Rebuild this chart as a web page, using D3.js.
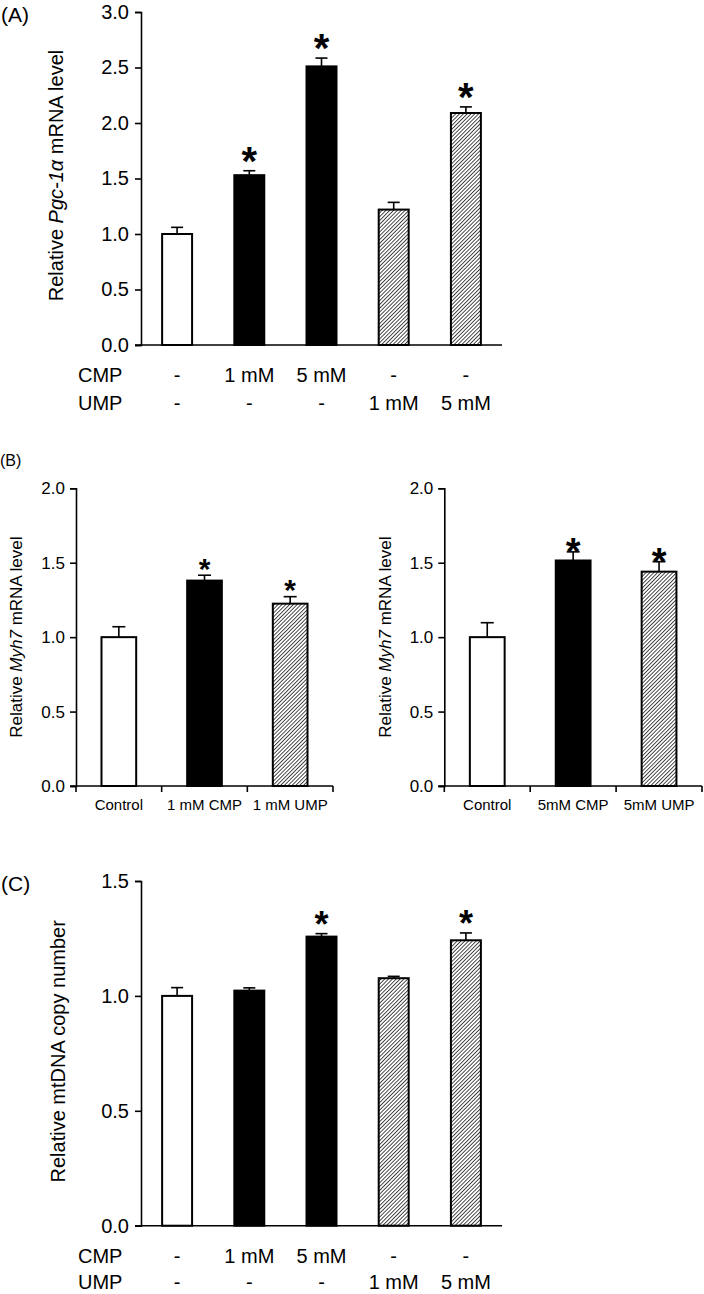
<!DOCTYPE html>
<html><head><meta charset="utf-8">
<script src="https://cdn.jsdelivr.net/npm/d3@7"></script>
<style>
html,body{margin:0;padding:0;background:#fff;}
text{font-family:"Liberation Sans",Arial,sans-serif;fill:#000;}
</style></head>
<body>
<svg id="fig" width="704" height="1294"></svg>
<script>
// ---------- data ----------
const groups5 = ["Control","1 mM CMP","5 mM CMP","1 mM UMP","5 mM UMP"];
const cmpRow = ["-","1 mM","5 mM","-","-"];
const umpRow = ["-","-","-","1 mM","5 mM"];
const fill5 = ["white","black","black","hatch","hatch"];

const pgcMean = [1.00, 1.53, 2.51, 1.22, 2.09];
const pgcErr  = [0.06, 0.04, 0.075, 0.065, 0.055];
const pgcSig  = [false, true, true, false, true];
const pgcTicks = [0,0.5,1.0,1.5,2.0,2.5,3.0];

const myhLabels1 = ["Control","1 mM CMP","1 mM UMP"];
const myhMean1 = [1.00, 1.38, 1.225];
const myhErr1  = [0.07, 0.036, 0.047];
const myhSig1  = [false, true, true];

const myhLabels5 = ["Control","5mM CMP","5mM UMP"];
const myhMean5 = [1.00, 1.515, 1.44];
const myhErr5  = [0.097, 0.058, 0.067];
const myhSig5  = [false, true, true];
const fill3 = ["white","black","hatch"];
const myhTicks = [0,0.5,1.0,1.5,2.0];

const mtMean = [1.00, 1.023, 1.258, 1.077, 1.242];
const mtErr  = [0.036, 0.012, 0.013, 0.008, 0.032];
const mtSig  = [false, false, true, false, true];
const mtTicks = [0,0.5,1.0,1.5];

// ---------- drawing ----------
const svg = d3.select("#fig");
const defs = svg.append("defs");
const pw = 2.7;
const pat = defs.append("pattern").attr("id","hatch")
  .attr("patternUnits","userSpaceOnUse").attr("width",pw).attr("height",pw)
  .attr("patternTransform","rotate(45)");
pat.append("rect").attr("width",pw).attr("height",pw).attr("fill","#fff");
pat.append("line").attr("x1",0).attr("y1",0).attr("x2",0).attr("y2",pw)
  .attr("stroke","#000").attr("stroke-width",1.4);

function fillOf(t){ return t==="hatch" ? "url(#hatch)" : t; }

function panel(o){
  const g = svg.append("g");
  const y = d3.scaleLinear().domain([0,o.yMax]).range([o.y0,o.y1]);
  const x = d3.scaleBand().domain(o.cats).range([o.x0,o.x1])
    .paddingInner(o.pad).paddingOuter(o.pad/2);
  const ya = g.append("g").attr("transform",`translate(${o.x0},0)`)
    .call(d3.axisLeft(y).tickValues(o.ticks).tickFormat(d3.format(".1f")).tickSizeOuter(0).tickSize(6).tickPadding(o.tickPad));
  ya.select(".domain").attr("stroke","#000").attr("stroke-width",1.6);
  ya.selectAll(".tick line").attr("stroke","#000").attr("stroke-width",1.6);
  ya.selectAll(".tick text").attr("font-size",o.tickFs).attr("font-family","Liberation Sans, Arial, sans-serif").attr("fill","#000");
  if(o.bottomAxis){
    const xa = g.append("g").attr("transform",`translate(0,${o.y0})`)
      .call(d3.axisBottom(x).tickSize(0).tickSizeOuter(0).tickPadding(o.xPad));
    xa.select(".domain").attr("d",`M${o.x0-6},0H${o.x1}`).attr("stroke","#000").attr("stroke-width",1.6);
    xa.selectAll(".tick text").attr("font-size",o.xFs).attr("font-family","Liberation Sans, Arial, sans-serif").attr("fill","#000");
    const step = x.step();
    const bounds = d3.range(o.cats.length+1).map(i=>o.x0 + i*step);
    g.selectAll(".bt").data(bounds).join("line")
      .attr("x1",d=>d).attr("x2",d=>d).attr("y1",o.y0).attr("y2",o.y0+6)
      .attr("stroke","#000").attr("stroke-width",1.6);
  } else {
    g.append("line").attr("x1",o.x0-6).attr("x2",o.x1).attr("y1",o.y0).attr("y2",o.y0)
      .attr("stroke","#000").attr("stroke-width",1.6);
  }
  const bw = x.bandwidth();
  g.selectAll(".eb").data(o.cats).join("line")
    .attr("x1",(d)=>x(d)+bw/2).attr("x2",(d)=>x(d)+bw/2)
    .attr("y1",(d,i)=>y(o.mean[i])).attr("y2",(d,i)=>y(o.mean[i]+o.err[i]))
    .attr("stroke","#000").attr("stroke-width",1.6);
  g.selectAll(".cap").data(o.cats).join("line")
    .attr("x1",(d)=>x(d)+bw/2-o.cap/2).attr("x2",(d)=>x(d)+bw/2+o.cap/2)
    .attr("y1",(d,i)=>y(o.mean[i]+o.err[i])).attr("y2",(d,i)=>y(o.mean[i]+o.err[i]))
    .attr("stroke","#000").attr("stroke-width",1.6);
  g.selectAll(".bar").data(o.cats).join("rect")
    .attr("x",d=>x(d)).attr("width",bw)
    .attr("y",(d,i)=>y(o.mean[i])).attr("height",(d,i)=>o.y0-y(o.mean[i]))
    .attr("fill",(d,i)=>fillOf(o.fills[i]))
    .attr("stroke","#000").attr("stroke-width",2);
  g.selectAll(".star").data(o.cats.filter((d,i)=>o.sig[i])).join("text")
    .attr("x",d=>x(d)+bw/2)
    .attr("y",d=>{const i=o.cats.indexOf(d); return y(o.mean[i]+o.err[i]) - o.starGap + 0.58*o.starFs;})
    .attr("text-anchor","middle").attr("font-weight","bold").attr("font-size",o.starFs).text("*");
  const yl = g.append("text").attr("transform",`translate(${o.ylX},${(o.y0+o.y1)/2+o.ylDy}) rotate(-90)`)
    .attr("text-anchor","middle").attr("font-size",o.ylFs);
  o.ylParts.forEach(p=>{ yl.append("tspan").attr("font-style",p.it?"italic":"normal").text(p.t); });
  return {g,x,y,bw};
}

// Panel A
const A = panel({cats:groups5, mean:pgcMean, err:pgcErr, sig:pgcSig, fills:fill5,
  yMax:3, y0:345, y1:12, x0:141, x1:502, pad:0.585, ticks:pgcTicks, tickFs:20, tickPad:6,
  cap:12, starFs:40, starGap:19, ylX:63, ylDy:-3, ylFs:20,
  ylParts:[{t:"Relative "},{t:"Pgc-1α",it:true},{t:" mRNA level"}]});
svg.append("text").attr("x",1).attr("y",22).attr("font-size",21).text("(A)");
function rows(P, yc, yu){
  svg.append("text").attr("x",78).attr("y",yc).attr("font-size",20).text("CMP");
  svg.append("text").attr("x",78).attr("y",yu).attr("font-size",20).text("UMP");
  svg.selectAll(null).data(groups5).join("text").attr("x",d=>P.x(d)+P.bw/2).attr("y",yc)
    .attr("text-anchor","middle").attr("font-size",20).text((d,i)=>cmpRow[i]);
  svg.selectAll(null).data(groups5).join("text").attr("x",d=>P.x(d)+P.bw/2).attr("y",yu)
    .attr("text-anchor","middle").attr("font-size",20).text((d,i)=>umpRow[i]);
}
rows(A, 382, 410);

// Panel B
svg.append("text").attr("x",0).attr("y",466).attr("font-size",16).text("(B)");
panel({cats:myhLabels1, mean:myhMean1, err:myhErr1, sig:myhSig1, fills:fill3,
  yMax:2, y0:786, y1:488.3, x0:76, x1:333, pad:0.595, ticks:myhTicks, tickFs:17, tickPad:5,
  cap:13, starFs:30, starGap:14, ylX:22, ylDy:0, ylFs:17, bottomAxis:true, xFs:15, xPad:13,
  ylParts:[{t:"Relative "},{t:"Myh7",it:true},{t:" mRNA level"}]});
panel({cats:myhLabels5, mean:myhMean5, err:myhErr5, sig:myhSig5, fills:fill3,
  yMax:2, y0:786, y1:488.3, x0:444.3, x1:702, pad:0.595, ticks:myhTicks, tickFs:17, tickPad:5,
  cap:13, starFs:38, starGap:9, ylX:391, ylDy:0, ylFs:17, bottomAxis:true, xFs:15, xPad:13,
  ylParts:[{t:"Relative "},{t:"Myh7",it:true},{t:" mRNA level"}]});

// Panel C
const C = panel({cats:groups5, mean:mtMean, err:mtErr, sig:mtSig, fills:fill5,
  yMax:1.5, y0:1225.7, y1:881, x0:141, x1:502, pad:0.585, ticks:mtTicks, tickFs:20, tickPad:6,
  cap:12, starFs:36, starGap:18, ylX:65, ylDy:-2, ylFs:20,
  ylParts:[{t:"Relative mtDNA copy number"}]});
svg.append("text").attr("x",1).attr("y",891).attr("font-size",21).text("(C)");
rows(C, 1263, 1289);
</script>
</body></html>
